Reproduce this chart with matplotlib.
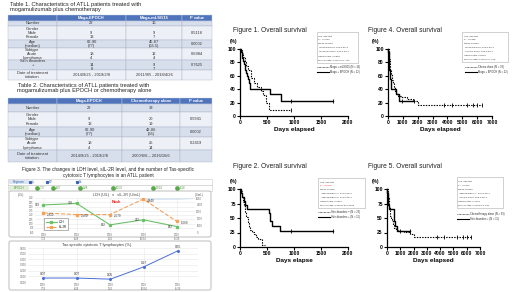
import numpy as np
import matplotlib.pyplot as plt
from matplotlib.patches import Rectangle, Ellipse, FancyBboxPatch

plt.rcParams['font.family'] = ['Liberation Sans', 'DejaVu Sans']

W, H = 520, 292  # canvas in pixels

# ---------------- tables ----------------
t1_cols = ['', 'Moga-EPOCH', 'Moga-mLSG15', 'P value']
t1_rows = [
    ['Number', '22', '16', ''],
    ['Gender\nMale\nFemale', '\n9\n13', '\n9\n7', '0.5118'],
    ['Age\n(median)', '62-90\n(77)', '45-87\n(65.5)', '0.0002'],
    ['Subtype\nAcute\nLymphoma', '\n18\n4', '\n12\n4', '0.6984'],
    ['Skin disorders\n+\n-', '\n14\n8', '\n9\n7', '0.7625'],
    ['Date of treatment\ninitiation', '2014/9/25 - 2019/2/8', '2011/9/5 - 2018/4/26', ''],
]
t2_cols = ['', 'Moga-EPOCH', 'Chemotherapy alone', 'P value']
t2_rows = [
    ['Number', '22', '39', ''],
    ['Gender\nMale\nFemale', '\n9\n13', '\n20\n19', '0.5941'],
    ['Age\n(median)', '62-90\n(77)', '42-86\n(65)', '0.0002'],
    ['Subtype\nAcute\nLymphoma', '\n18\n4', '\n25\n14', '0.2419'],
    ['Date of treatment\ninitiation', '2014/9/25 - 2019/2/8', '2000/6/6 \u2013 2016/10/6', ''],
]

# ---------------- survival curves (days, % alive) ----------------
epoch_t = [0, 20, 35, 50, 70, 90, 110, 130, 150, 170, 190, 560, 750, 1720]
epoch_s = [100, 95, 86, 82, 77, 68, 64, 59, 55, 50, 41, 33, 22, 22]
epoch_cens_t = [950, 1720]
epoch_cens_s = [22, 22]

mlsg_t = [0, 30, 60, 90, 120, 150, 200, 250, 320, 380, 430, 480, 540, 950]
mlsg_s = [100, 94, 88, 81, 75, 69, 56, 50, 44, 38, 31, 19, 9, 9]
mlsg_cens_t = [950]
mlsg_cens_s = [9]

chemo_t = [0, 40, 80, 120, 160, 200, 260, 320, 400, 480, 560, 700, 900, 1300, 1700, 2000, 6300]
chemo_s = [100, 92, 85, 77, 69, 62, 54, 49, 44, 38, 33, 30, 28, 26, 22, 17, 17]
chemo_cens_t = [3800, 4300, 5300, 5700, 6000, 6300]
chemo_cens_s = [17, 17, 17, 17, 17, 17]

skinp_t = [0, 20, 40, 70, 100, 130, 530, 560, 600, 740, 1720]
skinp_s = [100, 93, 87, 80, 73, 65, 58, 44, 36, 28, 28]
skinp_cens_t = [950, 1720]
skinp_cens_s = [28, 28]

skinm_t = [0, 15, 30, 45, 60, 80, 100, 120, 140, 165, 190, 220, 250, 290, 340, 400, 470]
skinm_s = [100, 96, 91, 87, 78, 70, 61, 52, 43, 35, 30, 26, 22, 17, 13, 4, 4]

fig1_stats = ['Log rank test', 'P = 0.3092', 'Mean survival', '  Moga-EPOCH: 266.0 days',
              '  Moga-mLSG15: 206.5 days', 'Hazard ratio: 0.6859', '95% CI ratio: 0.3165 to 1.430']
fig4_stats = ['Log rank test', 'P = 0.1885', 'Mean survival', '  Moga-EPOCH: 266.0 days',
              '  Chemo alone: 169.0 days', 'Hazard ratio: 0.8401', '95% CI ratio: 0.4491 to 1.568']
fig2_stats = ['Log rank test', 'P = 0.0003', 'Mean survival', '  Skin disorders +: 534.0 days',
              '  Skin disorders \u2212: 128.0 days', 'Hazard ratio: 0.2652', '95% CI ratio: 0.03079 to 0.3628']
fig5_stats = ['Log rank test', 'P = 0.0437', 'Mean survival', '  Skin disorders +: 534.0 days',
              '  Chemo alone: 169.0 days', 'Hazard ratio: 0.4428', '95% CI ratio: 0.2489 to 1.181']

# ---------------- figure 3 ----------------
fig3_dates = ['2018\n7/13', '2018\n8/28', '2018\n9/26', '2018\n10/24', '2018\n11/26']
ldh = [309, 318, 192, 222, 182]
sil2r = [2810, 2560, 2570, 4840, 1560]
tax_ctl = [0.07, 0.07, 0.05, 0.27, 0.55]
epoch_cycles = ['7/17', '8/27', '9/28', '10/30', '12/10', '1/18']
regimen_items = ['Ly', 'BV', 'Bo']

fig = plt.figure(figsize=(5.2, 2.92), dpi=100)


def px_rect(x0, y0, x1, y1):
    return [x0 / W, 1 - y1 / H, (x1 - x0) / W, (y1 - y0) / H]


bg = fig.add_axes([0, 0, 1, 1])
bg.set_xlim(0, W)
bg.set_ylim(H, 0)
bg.axis('off')


def draw_table(cols, rows, xs, ys):
    hdr = '#4f74bb'
    shades = ['#d7deec', '#edf0f6']
    for j, c in enumerate(cols):
        bg.add_patch(Rectangle((xs[j], ys[0]), xs[j + 1] - xs[j], ys[1] - ys[0],
                               fc=hdr, ec='#c9d1e3', lw=0.3))
        bg.text((xs[j] + xs[j + 1]) / 2, (ys[0] + ys[1]) / 2, c, color='white',
                fontsize=3.0, fontweight='bold', ha='center', va='center')
    for i, row in enumerate(rows):
        for j, cell in enumerate(row):
            bg.add_patch(Rectangle((xs[j], ys[i + 1]), xs[j + 1] - xs[j], ys[i + 2] - ys[i + 1],
                                   fc=shades[i % 2], ec='#a9b3c6', lw=0.3))
            bg.text((xs[j] + xs[j + 1]) / 2, (ys[i + 1] + ys[i + 2]) / 2, cell, color='#333333',
                    fontsize=2.9, ha='center', va='center', linespacing=1.05)


bg.text(10, 7, 'Table 1. Characteristics of ATLL patients treated with\nmogamulizumab plus chemotherapy',
        fontsize=4.1, va='center', ha='left', color='#222222', linespacing=1.15)
draw_table(t1_cols, t1_rows, [8, 57, 126, 182, 212], [15, 21, 26, 40, 48, 60, 70, 80])

bg.text(84, 88, 'Table 2. Characteristics of ATLL patients treated with\nmogamulizumab plus EPOCH or chemotherapy alone',
        fontsize=4.1, va='center', ha='center', color='#222222', linespacing=1.15)
draw_table(t2_cols, t2_rows, [8, 57, 122, 180, 212], [98, 104, 112, 127, 137, 150, 162])

bg.text(108, 172.5, 'Figure 3. The changes in LDH level, sIL-2R level, and the number of Tax-specific\n'
        'cytotoxic T lymphocytes in an ATLL patient',
        fontsize=3.4, va='center', ha='center', color='#222222', linespacing=1.15)

# treatment rows
for y0 in [179, 185]:
    bg.add_patch(Rectangle((8, y0), 204, 6, fc='white', ec='#c8c8c8', lw=0.4))
bg.add_patch(Rectangle((9, 179.6), 20, 4.8, fc='#dce6f4', ec='none'))
bg.text(19, 182, 'Regimen', fontsize=2.2, color='#3b62b0', ha='center', va='center')
bg.add_patch(Rectangle((9, 185.6), 20, 4.8, fc='#e2f0d9', ec='none'))
bg.text(19, 188, 'EPOCH', fontsize=2.2, color='#4a9a3c', ha='center', va='center')
for x, lab in zip([30, 47, 77], regimen_items):
    bg.plot(x, 181.5, marker='s', ms=1.3, color='#3b62b0')
    bg.text(x + 2, 182, lab, fontsize=2, color='#3b62b0', va='center')
for x, lab in zip([37, 53, 80, 113, 153, 177], epoch_cycles):
    bg.plot(x, 188, marker='o', ms=2.4, color='#5aa84a')
    bg.text(x + 3, 188, lab, fontsize=2, color='#4a9a3c', va='center')

# panel frames
for y0, y1 in [(191, 237), (241, 290)]:
    bg.add_patch(FancyBboxPatch((9, y0), 202, y1 - y0, boxstyle='round,pad=0,rounding_size=2',
                                fc='white', ec='#c4c4c4', lw=0.8))

# ---- LDH / sIL-2R panel ----
xi = np.arange(len(fig3_dates))
ax_l = fig.add_axes(px_rect(35, 198, 195, 232))
ax_l.add_patch(Ellipse((3.65, 350), 2.1, 22, fc='#cfe0f3', ec='none', alpha=0.9))
ax_l.plot(xi, ldh, color='#6cc06a', lw=0.8, marker='s', ms=1.4, label='LDH')
ax_l.set_xlim(-0.25, 4.55)
ax_l.set_ylim(150, 350)
ax_l.set_yticks(np.arange(150, 351, 25))
ax_l.grid(color='#e6e6e6', lw=0.4)
for x, v in zip(xi, ldh):
    ax_l.text(x - 0.12, v, str(v), fontsize=2.2, ha='right', va='center', color='#333333')
ax_r = ax_l.twinx()
ax_r.plot(xi, sil2r, color='#f2a25c', lw=0.8, ls='--', marker='s', ms=1.4, label='sIL-2R')
ax_r.set_ylim(0, 5000)
ax_r.set_yticks(np.arange(0, 5001, 1000))
for x, v in zip(xi, sil2r):
    ax_r.text(x + 0.12, v - 180, f'{v:,}', fontsize=2.2, ha='left', va='center', color='#333333')
ax_l.text(2.2, 322, 'Rash', color='#e02020', fontsize=2.8, fontweight='bold', ha='center')
for a in (ax_l, ax_r):
    a.tick_params(labelsize=1.9, length=0, pad=1, colors='#666666')
    for s in a.spines.values():
        s.set_visible(False)
ax_l.set_xticks(xi)
ax_l.set_xticklabels(fig3_dates, linespacing=1.0)
h1, l1 = ax_l.get_legend_handles_labels()
h2, l2 = ax_r.get_legend_handles_labels()
ax_l.legend(h1 + h2, l1 + l2, loc='lower left', fontsize=2, frameon=True, handlelength=4,
            borderpad=0.5, labelspacing=0.3, edgecolor='#555555', fancybox=False,
            bbox_to_anchor=(0.05, 0.02)).get_frame().set_linewidth(0.4)
bg.text(117, 195, 'LDH (U/L)   \u25cb   sIL-2R (U/mL)', fontsize=2.6, ha='center', va='center', color='#444444')
bg.text(21, 195, '(U/L)', fontsize=2.1, ha='center', va='center', color='#555555')
bg.text(199, 195, '(U/mL)', fontsize=2.1, ha='center', va='center', color='#555555')

# ---- Tax-specific CTL panel ----
ax_t = fig.add_axes(px_rect(28, 248, 198, 282))
ax_t.plot(xi, tax_ctl, color='#4a6ed6', lw=0.7, marker='o', ms=1.2)
ax_t.set_xlim(-0.45, 4.6)
ax_t.set_ylim(0, 0.6)
ax_t.set_yticks(np.arange(0, 0.61, 0.1))
ax_t.set_yticklabels([f'{v:.3f}' for v in np.arange(0, 0.61, 0.1)])
ax_t.set_xticks(xi)
ax_t.set_xticklabels(fig3_dates, linespacing=1.0)
ax_t.grid(color='#e6e6e6', lw=0.4)
ax_t.tick_params(labelsize=1.9, length=0, pad=1, colors='#666666')
for s in ax_t.spines.values():
    s.set_visible(False)
for x, v in zip(xi, tax_ctl):
    ax_t.text(x, v + 0.03, f'{v:.2f}', fontsize=2.3, ha='center', va='bottom', color='#333333')
bg.text(97, 245, 'Tax-specific cytotoxic T lymphocytes (%)', fontsize=2.8, ha='center', va='center',
        color='#333333')


# ---------------- survival panels ----------------
def km_axes(x0, y0, x1, y1, xmax, xticks, yticks, xlabel):
    ax = fig.add_axes(px_rect(x0, y0, x1, y1))
    ax.set_facecolor('none')
    ax.set_xlim(0, xmax)
    ax.set_ylim(0, 100)
    ax.spines['top'].set_visible(False)
    ax.spines['right'].set_visible(False)
    ax.spines['left'].set_linewidth(0.9)
    ax.spines['bottom'].set_linewidth(0.9)
    ax.set_xticks(xticks)
    ax.set_yticks(yticks)
    ax.tick_params(labelsize=3.6, width=0.8, length=2, pad=1)
    for lab in ax.get_xticklabels() + ax.get_yticklabels():
        lab.set_fontweight('bold')
    ax.set_xlabel(xlabel, fontsize=4.6, fontweight='bold', labelpad=1.5)
    return ax


def km_curve(ax, t, s, dotted, ct=None, cs=None):
    ls = (0, (1.3, 1.1)) if dotted else '-'
    lw = 0.8 if dotted else 1.0
    ax.step(t, s, where='post', color='black', ls=ls, lw=lw, clip_on=False)
    if ct:
        ax.plot(ct, cs, ls='none', marker='|', ms=2.2, mew=0.6, color='black', clip_on=False)


def km_notes(title_xy, pct_xy, box, stats, red_p, leg_y, leg_x, leg_labels):
    bg.text(title_xy[0], title_xy[1], title_xy[2], fontsize=4.8, ha='left', va='center', color='#222222')
    bg.text(pct_xy[0], pct_xy[1], '(%)', fontsize=3.4, fontweight='bold', ha='center', va='center')
    bx0, by0, bx1, by1 = box
    bg.add_patch(Rectangle((bx0, by0), bx1 - bx0, by1 - by0, fc='white', ec='#bdbdbd', lw=0.5))
    step = (by1 - by0 - 3) / len(stats)
    for k, line in enumerate(stats):
        bg.text(bx0 + 1.5, by0 + 2 + step * (k + 0.5), line, fontsize=1.75, va='center',
                color='#e02020' if (red_p and k == 1) else '#333333')
    for k, lab in enumerate(leg_labels):
        y = leg_y + 5 * k
        bg.plot([leg_x, leg_x + 12], [y, y], color='black', lw=0.5 if k == 0 else 0.8,
                ls=(0, (1, 1)) if k == 0 else '-')
        bg.text(leg_x + 13, y, lab, fontsize=1.9, va='center', color='#333333')


ax1 = km_axes(240, 49, 348, 116, 2000, [0, 500, 1000, 1500, 2000], [0, 20, 40, 60, 80, 100], 'Days elapsed')
km_curve(ax1, mlsg_t, mlsg_s, True, mlsg_cens_t, mlsg_cens_s)
km_curve(ax1, epoch_t, epoch_s, False, epoch_cens_t, epoch_cens_s)
km_notes((233, 30, 'Figure 1. Overall survival'), (233, 42), (317, 32, 358, 63), fig1_stats, False,
         67, 317, ['Moga + mLSG15 (N = 16)', 'Moga + EPOCH (N = 22)'])

ax4 = km_axes(388, 49, 492, 116, 7000, list(range(0, 7001, 1000)), [0, 20, 40, 60, 80, 100], 'Days elapsed')
km_curve(ax4, chemo_t, chemo_s, True, chemo_cens_t, chemo_cens_s)
km_curve(ax4, epoch_t, epoch_s, False, epoch_cens_t, epoch_cens_s)
km_notes((368, 30, 'Figure 4. Overall survival'), (375, 42), (462, 32, 508, 62), fig4_stats, False,
         67, 465, ['Chemo alone (N = 39)', 'Moga + EPOCH (N = 22)'])

ax2 = km_axes(240, 189, 348, 247, 2000, [0, 500, 1000, 1500, 2000], [0, 25, 50, 75, 100], 'Days elapse')
km_curve(ax2, skinm_t, skinm_s, True)
km_curve(ax2, skinp_t, skinp_s, False, skinp_cens_t, skinp_cens_s)
km_notes((233, 166, 'Figure 2. Overall survival'), (233, 182), (318, 178, 365, 208), fig2_stats, True,
         212, 318, ['Skin disorders \u2212 (N = 23)', 'Skin disorders + (N = 15)'])

ax5 = km_axes(387, 189, 480, 247, 7000, list(range(0, 7001, 1000)), [0, 25, 50, 75, 100], 'Days elapsed')
km_curve(ax5, chemo_t, chemo_s, True, chemo_cens_t, chemo_cens_s)
km_curve(ax5, skinp_t, skinp_s, False, skinp_cens_t, skinp_cens_s)
km_notes((368, 166, 'Figure 5. Overall survival'), (375, 182), (457, 177, 503, 208), fig5_stats, False,
         214, 457, ['Chemotherapy alone (N = 39)', 'Skin disorders + (N = 15)'])

fig.savefig('out.png', dpi=100)
